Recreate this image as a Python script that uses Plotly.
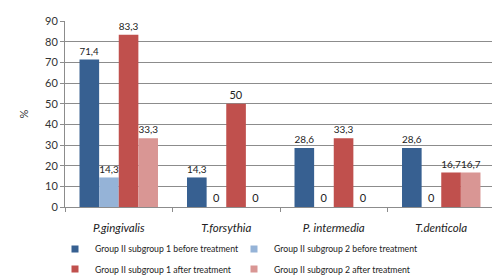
import plotly.graph_objects as go

categories = ["P.gingivalis", "T.forsythia", "P. intermedia", "T.denticola"]
series_names = [
    "Group II subgroup 1 before treatment",
    "Group II subgroup 2 before treatment",
    "Group II subgroup 1 after treatment",
    "Group II subgroup 2 after treatment",
]
s1_before = [71.4, 14.3, 28.6, 28.6]
s2_before = [14.3, 0, 0, 0]
s1_after = [83.3, 50, 33.3, 16.7]
s2_after = [33.3, 0, 0, 16.7]
colors = ["#376091", "#95B3D7", "#C0504D", "#D99694"]
y_ticks = [0, 10, 20, 30, 40, 50, 60, 70, 80, 90]

def fmt(v):
    s = ("%.1f" % v).rstrip("0").rstrip(".")
    return s.replace(".", ",")

fig = go.Figure()
for name, vals, col in zip(series_names, [s1_before, s2_before, s1_after, s2_after], colors):
    fig.add_trace(go.Bar(
        x=categories, y=vals, name=name, marker_color=col,
        marker_line_width=0, showlegend=False,
        text=[fmt(v) for v in vals], textposition="outside",
        textfont=dict(size=11, color="#222"),
        cliponaxis=False,
    ))

legend_ids = ["legend", "legend2", "legend3", "legend4"]
for name, col, lid in zip(series_names, colors, legend_ids):
    fig.add_trace(go.Scatter(
        x=[None], y=[None], mode="markers", name=name, legend=lid,
        marker=dict(symbol="square", size=7, color=col),
    ))

leg_common = dict(orientation="h", xanchor="left", yanchor="middle",
                  xref="container", yref="container",
                  font=dict(size=8.7, color="#222"), itemwidth=30,
                  bgcolor="rgba(0,0,0,0)")
col_x = [0.094, 0.452]
row_y = [0.127, 0.054]
legends = {}
for i, lid in enumerate(legend_ids):
    legends[lid] = dict(leg_common, x=col_x[i % 2], y=row_y[i // 2])

fig.update_layout(
    width=500, height=276,
    margin=dict(l=57, r=13, t=13, b=77, autoexpand=False),
    barmode="group", bargap=0.27, bargroupgap=0,
    plot_bgcolor="white", paper_bgcolor="white",
    font=dict(family="Lato, sans-serif", size=11, color="#333"),
    showlegend=True,
    yaxis=dict(range=[0, 90], tickvals=y_ticks, showgrid=True, gridcolor="#8c8c8c",
               gridwidth=1, showline=True, linecolor="#8c8c8c", ticks="outside",
               ticklen=4, tickcolor="#8c8c8c", zeroline=False,
               title=dict(text="%", standoff=14, font=dict(size=11)),
               tickfont=dict(size=11, color="#333")),
    xaxis=dict(showline=True, linecolor="#8c8c8c", ticks="outside", tickson="boundaries",
               ticklen=4, tickcolor="#8c8c8c", ticklabelstandoff=10,
               tickfont=dict(size=11.5, color="#222", style="italic")),
    **legends,
)

fig.write_html("out.html")
